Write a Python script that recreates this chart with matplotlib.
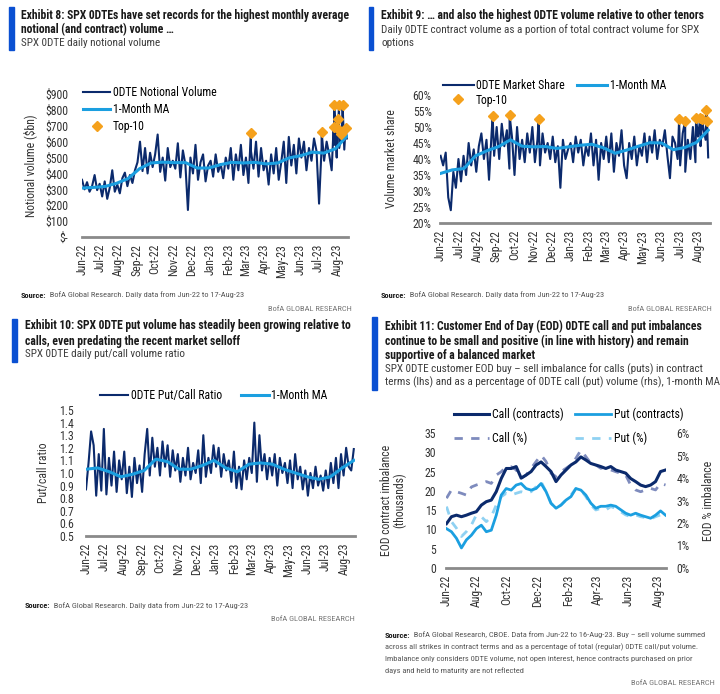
import numpy as np
import pandas as pd
import matplotlib
matplotlib.use("Agg")
import matplotlib.pyplot as plt
import matplotlib.dates as mdates
from matplotlib.ticker import FuncFormatter, MultipleLocator
from matplotlib.patches import Rectangle
from matplotlib import font_manager

# ---------------- data ----------------
START = "2022-06-01"
END = "2023-08-17"
END_EOD = "2023-08-16"

# Exhibit 8: daily 0DTE notional volume ($bn), sampled roughly every 3 business days
notional = [360, 300, 345, 285, 320, 390, 295, 335,
            255, 350, 240, 310, 420, 285, 330,
            275, 370, 405, 320, 390, 340, 420,
            470, 600, 415, 560, 400, 530, 440,
            520, 645, 410, 500, 355, 560, 440, 480,
            430, 590, 375, 545, 455, 170, 500,
            400, 580, 360, 470, 520, 350, 450,
            480, 380, 520, 410, 460, 370, 500, 430,
            560, 360, 520, 420, 580, 390,
            500, 340, 540, 430, 600, 380, 560, 420,
            480, 330, 520, 400, 560, 360, 470,
            600, 340, 630, 450, 580, 400, 620,
            500, 600, 420, 560, 480, 620, 540,
            210, 560, 480, 600, 520, 420, 580, 500,
            560, 640, 550, 620]
notional_ma = [308, 312, 318, 338, 368, 430, 466, 471, 468, 468, 434, 434,
               455, 470, 466, 470, 460, 466, 498, 512, 534, 528, 555, 634]
top10_notional_dates = ["2023-03-10", "2023-07-06", "2023-07-26", "2023-07-27",
                        "2023-08-01", "2023-08-03", "2023-08-04", "2023-08-08",
                        "2023-08-10", "2023-08-15"]
top10_notional = [656, 662, 694, 830, 684, 740, 830, 646, 830, 687]

# Exhibit 9: 0DTE market share of SPX volume (%)
share = [41, 38, 42, 28, 24, 36, 31, 40,
         33, 41, 35, 45, 38, 43, 36,
         44, 48, 40, 46, 33.5, 48, 41,
         50, 40, 51, 44, 49, 37, 47,
         35, 50, 40, 46, 39, 48, 42, 50,
         39, 46, 38, 48, 42, 45, 40,
         47, 39, 44, 31, 46, 40, 43,
         45, 39, 47, 42, 46, 38, 44, 41,
         48, 38, 46, 33.5, 45, 40,
         47, 39, 48, 36, 45, 41, 49, 38,
         34, 45, 40, 47, 38, 44, 41,
         48, 39, 47, 42, 49, 40, 46,
         44, 49, 41, 34, 47, 45, 40,
         38, 48, 36, 46, 40, 50, 39, 47,
         44, 50, 46, 40.5]
share_ma = [35.5, 36.6, 37.0, 41.0, 42.6, 43.9, 46.0, 44.0, 43.8, 43.9, 43.3, 43.8,
            44.3, 44.6, 43.5, 41.8, 42.8, 44.0, 45.1, 45.0, 42.9, 43.6, 45.2, 49.0]
top10_share_dates = ["2022-08-26", "2022-09-23", "2022-11-10", "2023-06-30",
                     "2023-07-10", "2023-07-28", "2023-08-04", "2023-08-07",
                     "2023-08-14", "2023-08-15"]
top10_share = [53.4, 53.7, 52.5, 52.4, 52.0, 52.9, 52.9, 52.4, 55.3, 52.0]

# Exhibit 10: 0DTE put/call ratio
pcr = [0.87, 1.08, 1.33, 1.22, 0.82, 1.15, 0.86, 1.35,
       0.83, 1.12, 0.90, 1.17, 0.85, 1.10, 0.95,
       1.17, 0.84, 1.05, 0.81, 1.12, 0.92, 1.06,
       0.85, 1.15, 1.35, 0.98, 1.28, 1.05, 1.20,
       0.98, 1.25, 1.05, 1.22, 0.97, 1.18, 1.02, 1.15,
       0.93, 1.12, 0.98, 1.20, 0.95, 1.08, 1.00,
       1.18, 0.92, 1.30, 0.97, 1.12, 1.00, 1.22,
       1.05, 1.20, 0.97, 1.15, 1.02, 1.10, 0.93, 1.17,
       0.88, 1.05, 0.87, 1.10, 0.95, 1.12,
       1.00, 1.40, 0.93, 1.30, 1.02, 1.15, 0.95, 1.12,
       0.98, 1.15, 0.90, 1.12, 1.00, 1.08, 0.92,
       1.10, 0.88, 1.15, 0.95, 1.05, 0.87, 1.02,
       0.82, 1.00, 0.88, 1.05, 0.90, 0.98, 0.86,
       1.02, 0.88, 1.08, 0.92, 1.12, 0.88, 1.15, 0.98,
       1.20, 1.05, 1.02, 1.19]
pcr_ma = [1.03, 1.04, 1.01, 0.97, 0.99, 1.02, 1.11, 1.09, 1.03, 1.03, 1.06, 1.10,
          1.04, 1.01, 1.07, 1.08, 1.07, 1.03, 1.00, 0.97, 0.95, 0.97, 1.04, 1.10]

# Exhibit 11: EOD imbalance, 1-month MA (contracts in thousands, % of volume)
call_contracts = [11.5, 13.3, 13.7, 13.3, 13.7, 14.2, 14.6, 16.3, 17.2, 17.6,
                  19.8, 23.2, 25.8, 25.8, 26.3, 23.3, 24.1, 25.0, 26.7, 27.5,
                  26.3, 25.0, 22.4, 24.1, 25.4, 26.7, 27.5, 28.8, 28.0, 27.1,
                  26.7, 26.3, 25.8, 26.3, 25.4, 25.0, 24.6, 23.2, 22.4, 21.5,
                  21.1, 21.5, 22.4, 25.0, 25.4]
put_contracts = [10.2, 9.4, 7.7, 5.2, 7.3, 8.5, 10.2, 11.1, 9.4, 9.8,
                 13.7, 18.9, 20.6, 20.2, 21.5, 21.9, 20.6, 20.2, 20.6, 21.9,
                 19.8, 16.8, 15.5, 16.3, 17.6, 18.5, 20.6, 20.2, 18.9, 16.8,
                 15.5, 16.0, 16.0, 16.3, 16.0, 15.1, 14.2, 13.7, 14.2, 13.7,
                 13.3, 12.9, 13.7, 14.8, 13.7]
call_pct = [3.10, 3.47, 3.39, 3.32, 3.24, 3.60, 3.69, 3.76, 3.84, 3.76,
            4.13, 4.28, 4.50, 4.50, 4.36, 3.99, 4.13, 4.43, 4.73, 5.02,
            4.73, 4.21, 4.06, 4.28, 4.43, 4.58, 4.88, 5.24, 4.95, 4.65,
            4.58, 4.43, 4.50, 4.36, 4.28, 4.21, 4.13, 3.69, 3.47, 3.39,
            3.47, 3.54, 3.47, 3.76, 3.69]
put_pct = [2.73, 2.06, 1.77, 1.40, 1.62, 1.91, 2.36, 2.28, 2.06, 2.28,
           2.80, 3.17, 3.32, 3.24, 3.32, 3.39, 3.32, 3.39, 3.61, 3.84,
           3.39, 2.87, 2.65, 2.80, 3.02, 3.24, 3.54, 3.47, 3.17, 2.80,
           2.58, 2.65, 2.58, 2.73, 2.65, 2.50, 2.36, 2.28, 2.36, 2.28,
           2.24, 2.18, 2.28, 2.36, 2.21]

# ---------------- style ----------------
NAVY = "#0b2a6c"
SKY = "#1b9fe0"
ORANGE = "#f5a11c"
CALL_PCT = "#7e8bbd"
PUT_PCT = "#8fd1f2"
BAR = "#0a50d2"
AXIS_GRAY = "#8a8a8a"
TXT = "#333333"

names = {f.name for f in font_manager.fontManager.ttflist}
FONT = next((n for n in ["Liberation Sans Narrow", "Roboto Condensed",
                         "Open Sans Condensed", "Liberation Sans"] if n in names),
            "DejaVu Sans")
plt.rcParams["font.family"] = [FONT, "DejaVu Sans"]

W, H = 720, 694
fig = plt.figure(figsize=(W / 100, H / 100), dpi=100)


def px_axes(l, t, r, b):
    return fig.add_axes([l / W, 1 - b / H, (r - l) / W, (b - t) / H])


def series(values, end, extra_dates=None, extra_values=None):
    s = pd.Series(values, index=pd.date_range(START, end, periods=len(values)))
    if extra_dates is not None:
        s = pd.concat([s, pd.Series(extra_values, index=pd.to_datetime(extra_dates))])
    return s.sort_index()


def style(ax, ypad, locator):
    for side in ["top", "right", "left"]:
        ax.spines[side].set_visible(False)
    ax.spines["bottom"].set_color(AXIS_GRAY)
    ax.spines["bottom"].set_linewidth(2)
    ax.tick_params(axis="both", length=0, labelsize=8.5, colors=TXT)
    ax.tick_params(axis="y", pad=ypad)
    ax.tick_params(axis="x", pad=5, labelrotation=90)
    ax.xaxis.set_major_locator(locator)
    ax.xaxis.set_major_formatter(mdates.DateFormatter("%b-%y"))
    ax.patch.set_visible(False)


def header(x, ys_bold, bold, ys_sub, sub, bar):
    for y, line in zip(ys_bold, bold):
        fig.text(x / W, 1 - y / H, line, fontsize=8.4, fontweight="bold",
                 color="#1a1a1a", va="center", ha="left")
    for y, line in zip(ys_sub, sub):
        fig.text(x / W, 1 - y / H, line, fontsize=8, color="#3c3c3c",
                 va="center", ha="left")
    bx, by0, by1 = bar
    fig.patches.append(Rectangle((bx / W, 1 - by1 / H), 4.5 / W, (by1 - by0) / H,
                                 transform=fig.transFigure, color=BAR))


def footer(ax, x, y, first, more, right_x, right_y):
    t = fig.text(x / W, 1 - y / H, "Source:", fontsize=6, fontweight="bold",
                 color="#1a1a1a", va="center", ha="left")
    ax.annotate("  " + first, xy=(1, 0.5), xycoords=t, fontsize=6,
                color="#555555", va="center", ha="left", annotation_clip=False)
    for i, line in enumerate(more):
        fig.text(x / W, 1 - (y + 12 * (i + 1)) / H, line, fontsize=6,
                 color="#555555", va="center", ha="left")
    fig.text(right_x / W, 1 - right_y / H, "BofA GLOBAL RESEARCH", fontsize=6,
             color="#777777", va="center", ha="right")


x0 = pd.Timestamp(START)

# ---------------- Exhibit 8 ----------------
ax1 = px_axes(82, 94, 348, 237)
s1 = series(notional, END, top10_notional_dates, top10_notional)
ma1 = series(notional_ma, END)
l1, = ax1.plot(s1.index, s1.values, color=NAVY, lw=1.5, label="0DTE Notional Volume")
m1, = ax1.plot(ma1.index, ma1.values, color=SKY, lw=2.2, label="1-Month MA")
t1, = ax1.plot(pd.to_datetime(top10_notional_dates), top10_notional, "D", ms=5,
               color=ORANGE, ls="none", clip_on=False, zorder=5, label="Top-10")
ax1.set_ylim(0, 900)
ax1.yaxis.set_major_locator(MultipleLocator(100))
ax1.yaxis.set_major_formatter(FuncFormatter(lambda v, p: "$-" if v == 0 else f"${v:.0f}"))
ax1.set_xlim(x0, pd.Timestamp("2023-08-19"))
style(ax1, 10, mdates.MonthLocator())
ax1.set_ylabel("Notional volume ($bn)", fontsize=8.5, color=TXT)
ax1.yaxis.set_label_coords(-0.169, 0.5)
ax1.legend(handles=[l1, m1, t1], loc="upper left", bbox_to_anchor=(83 / W, 1 - 86 / H),
           bbox_transform=fig.transFigure, frameon=False, fontsize=8.5,
           handlelength=2.3, handletextpad=0.2, labelspacing=0.35,
           borderpad=0, borderaxespad=0)
header(21, [16, 30], ["Exhibit 8: SPX 0DTEs have set records for the highest monthly average",
                      "notional (and contract) volume \u2026"],
       [43], ["SPX 0DTE daily notional volume"], (9, 7, 50))
footer(ax1, 21, 295, "BofA Global Research. Daily data from Jun-22 to 17-Aug-23", [], 352, 309)

# ---------------- Exhibit 9 ----------------
ax2 = px_axes(440, 95, 710, 223)
s2 = series(share, END, top10_share_dates, top10_share)
ma2 = series(share_ma, END)
l2, = ax2.plot(s2.index, s2.values, color=NAVY, lw=1.5, label="0DTE Market Share")
m2, = ax2.plot(ma2.index, ma2.values, color=SKY, lw=2.2, label="1-Month MA")
t2, = ax2.plot(pd.to_datetime(top10_share_dates), top10_share, "D", ms=5,
               color=ORANGE, ls="none", clip_on=False, zorder=5, label="Top-10")
ax2.set_ylim(20, 60)
ax2.yaxis.set_major_locator(MultipleLocator(5))
ax2.yaxis.set_major_formatter(FuncFormatter(lambda v, p: f"{v:.0f}%"))
ax2.set_xlim(x0 - pd.Timedelta(days=1), pd.Timestamp("2023-08-20"))
style(ax2, 6, mdates.MonthLocator())
ax2.set_ylabel("Volume market share", fontsize=8.5, color=TXT)
ax2.yaxis.set_label_coords(-0.156, 0.5)
ax2.legend(handles=[l2, t2, m2], ncol=2, loc="upper left",
           bbox_to_anchor=(443 / W, 1 - 79 / H), bbox_transform=fig.transFigure,
           frameon=False, fontsize=8.5, handlelength=2.6, handletextpad=0.2,
           labelspacing=0.13, columnspacing=1.0, borderpad=0, borderaxespad=0)
header(381, [16], ["Exhibit 9: \u2026 and also the highest 0DTE volume relative to other tenors"],
       [30, 43], ["Daily 0DTE contract volume as a portion of total contract volume for SPX",
                  "options"], (369, 7, 50))
footer(ax2, 381, 295, "BofA Global Research. Daily data from Jun-22 to 17-Aug-23", [], 712, 309)

# ---------------- Exhibit 10 ----------------
ax3 = px_axes(86, 410, 355, 536)
s3 = series(pcr, END)
ma3 = series(pcr_ma, END)
l3, = ax3.plot(s3.index, s3.values, color=NAVY, lw=1.5, label="0DTE Put/Call Ratio")
m3, = ax3.plot(ma3.index, ma3.values, color=SKY, lw=2.2, label="1-Month MA")
ax3.set_ylim(0.5, 1.5)
ax3.yaxis.set_major_locator(MultipleLocator(0.1))
ax3.yaxis.set_major_formatter(FuncFormatter(lambda v, p: f"{v:.1f}"))
ax3.set_xlim(x0, pd.Timestamp("2023-08-19"))
style(ax3, 8.5, mdates.MonthLocator())
ax3.set_ylabel("Put/call ratio", fontsize=8.5, color=TXT)
ax3.yaxis.set_label_coords(-0.134, 0.5)
ax3.legend(handles=[l3, m3], ncol=2, loc="upper left",
           bbox_to_anchor=(100 / W, 1 - 389 / H), bbox_transform=fig.transFigure,
           frameon=False, fontsize=8.5, handlelength=2.4, handletextpad=0.2,
           columnspacing=1.6, borderpad=0, borderaxespad=0)
header(25, [326, 341], ["Exhibit 10: SPX 0DTE put volume has steadily been growing relative to",
                        "calls, even predating the recent market selloff"],
       [354], ["SPX 0DTE daily put/call volume ratio"], (12, 319, 362))
footer(ax3, 25, 606, "BofA Global Research. Daily data from Jun-22 to 17-Aug-23", [], 355, 619)

# ---------------- Exhibit 11 ----------------
ax4 = px_axes(446, 433, 666, 568)
ax4r = ax4.twinx()
cc = series(call_contracts, END_EOD)
pc = series(put_contracts, END_EOD)
cp = series(call_pct, END_EOD)
pp = series(put_pct, END_EOD)
h_cp, = ax4r.plot(cp.index, cp.values, color=CALL_PCT, lw=2, ls=(0, (3, 3)), label="Call (%)")
h_pp, = ax4r.plot(pp.index, pp.values, color=PUT_PCT, lw=2, ls=(0, (3, 3)), label="Put (%)")
h_pc, = ax4.plot(pc.index, pc.values, color=SKY, lw=2, label="Put (contracts)")
h_cc, = ax4.plot(cc.index, cc.values, color=NAVY, lw=2.2, label="Call (contracts)")
ax4.set_zorder(ax4r.get_zorder() + 1)
ax4.set_ylim(0, 35)
ax4.yaxis.set_major_locator(MultipleLocator(5))
ax4r.set_ylim(0, 6)
ax4r.yaxis.set_major_locator(MultipleLocator(1))
ax4r.yaxis.set_major_formatter(FuncFormatter(lambda v, p: f"{v:.0f}%"))
ax4.set_xlim(x0 - pd.Timedelta(days=1), pd.Timestamp("2023-08-17"))
style(ax4, 7, mdates.MonthLocator(bymonth=(2, 4, 6, 8, 10, 12)))
for side in ["top", "right", "left", "bottom"]:
    ax4r.spines[side].set_visible(False)
ax4r.tick_params(axis="y", length=0, labelsize=8.5, colors=TXT, pad=7.5)
ax4.set_ylabel("EOD contract imbalance\n(thousands)", fontsize=8.5, color=TXT,
               linespacing=1.0)
ax4.yaxis.set_label_coords(-0.18, 0.5)
ax4r.set_ylabel("EOD % imbalance", fontsize=8.5, color=TXT, rotation=90)
ax4r.yaxis.set_label_coords(1.164, 0.5)
ax4.legend(handles=[h_cc, h_cp, h_pc, h_pp], ncol=2, loc="upper left",
           bbox_to_anchor=(454 / W, 1 - 408 / H), bbox_transform=fig.transFigure,
           frameon=False, fontsize=8.5, handlelength=3.0, handletextpad=0.25,
           labelspacing=0.84, columnspacing=0.95, borderpad=0, borderaxespad=0)
header(385, [326, 341, 355],
       ["Exhibit 11: Customer End of Day (EOD) 0DTE call and put imbalances",
        "continue to be small and positive (in line with history) and remain",
        "supportive of a balanced market"],
       [369, 382],
       ["SPX 0DTE customer EOD buy \u2013 sell imbalance for calls (puts) in contract",
        "terms (lhs) and as a percentage of 0DTE call (put) volume (rhs), 1-month MA"],
       (372, 317, 390))
footer(ax4, 385, 635,
       "BofA Global Research, CBOE. Data from Jun-22 to 16-Aug-23. Buy \u2013 sell volume summed",
       ["across all strikes in contract terms and as a percentage of total (regular) 0DTE call/put volume.",
        "Imbalance only considers 0DTE volume, not open interest, hence contracts purchased on prior",
        "days and held to maturity are not reflected"],
       715, 683)

fig.savefig("out.png", dpi=100)
